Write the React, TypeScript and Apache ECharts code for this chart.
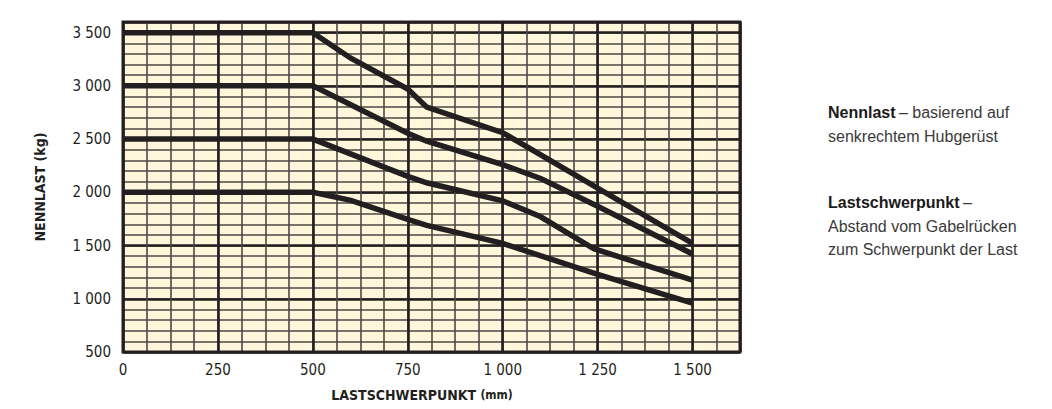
import React, { useEffect, useRef } from "react";
import * as echarts from "echarts";

// Load centre of gravity (mm)
const curve3500: [number, number][] = [[0, 3500], [500, 3500], [600, 3260], [750, 2970], [800, 2800], [1000, 2560], [1250, 2040], [1500, 1520]];
const curve3000: [number, number][] = [[0, 3000], [500, 3000], [750, 2555], [800, 2480], [1000, 2260], [1100, 2130], [1250, 1870], [1500, 1420]];
const curve2500: [number, number][] = [[0, 2500], [500, 2500], [750, 2150], [800, 2090], [1000, 1920], [1100, 1770], [1240, 1470], [1500, 1175]];
const curve2000: [number, number][] = [[0, 2000], [500, 2000], [600, 1925], [750, 1745], [800, 1690], [1000, 1520], [1250, 1230], [1500, 960]];

const xTickLabels = [0, 250, 500, 750, 1000, 1250, 1500];
const yTickLabels = [500, 1000, 1500, 2000, 2500, 3000, 3500];

const fmt = (v: number) => {
  const s = String(v);
  return s.length > 3 ? s.slice(0, s.length - 3) + " " + s.slice(-3) : s;
};

const NARROW = "'Liberation Sans Narrow', 'DejaVu Sans Condensed', 'Roboto', sans-serif";
const SANS = "'Liberation Sans', Arial, sans-serif";
const INK = "#231f20";

export default function App() {
  const ref = useRef<HTMLDivElement>(null);
  useEffect(() => {
    if (!ref.current) return;
    const chart = echarts.init(ref.current, undefined, { renderer: "svg" });
    const grid = { left: 123, top: 22, width: 617, height: 330 };
    const lineSeries = (data: [number, number][]) => ({
      type: "line",
      data,
      xAxisIndex: 0,
      yAxisIndex: 0,
      symbol: "none",
      lineStyle: { color: INK, width: 5.5, join: "miter" },
      z: 5,
    });
    const richStyles = {
      b: { fill: "#1a1a1a", fontFamily: SANS, fontWeight: "bold", fontSize: 16, lineHeight: 23.5 },
      r: { fill: "#3a3a3a", fontFamily: SANS, fontSize: 16, lineHeight: 23.5 },
    };
    chart.setOption({
      animation: false,
      grid: { ...grid, show: true, backgroundColor: "#fff6dc", borderColor: INK, borderWidth: 0 },
      xAxis: [
        {
          type: "value", min: 0, max: 1625, interval: 62.5,
          axisLine: { show: false }, axisTick: { show: false },
          axisLabel: {
            margin: 10, color: INK, fontFamily: NARROW, fontSize: 15,
            formatter: (v: number) => (xTickLabels.includes(v) ? fmt(v) : ""),
          },
          splitLine: { show: true, lineStyle: { color: "#4d4845", width: 1.6 } },
        },
        {
          type: "value", min: 0, max: 1625, interval: 250, position: "bottom",
          axisLine: { show: false }, axisTick: { show: false }, axisLabel: { show: false },
          splitLine: { show: true, lineStyle: { color: INK, width: 2.6 } },
        },
      ],
      yAxis: [
        {
          type: "value", min: 500, max: 3600, interval: 100,
          axisLine: { show: false }, axisTick: { show: false },
          axisLabel: {
            margin: 12, color: INK, fontFamily: NARROW, fontSize: 15,
            formatter: (v: number) => (yTickLabels.includes(v) ? fmt(v) : ""),
          },
          splitLine: { show: true, lineStyle: { color: "#4d4845", width: 1.6 } },
        },
        {
          type: "value", min: 500, max: 3600, interval: 500,
          axisLine: { show: false }, axisTick: { show: false }, axisLabel: { show: false },
          splitLine: { show: true, lineStyle: { color: INK, width: 2.6 } },
        },
      ],
      series: [lineSeries(curve3500), lineSeries(curve3000), lineSeries(curve2500), lineSeries(curve2000)],
      graphic: [
        {
          type: "rect", z: 10, silent: true,
          shape: { x: grid.left, y: grid.top, width: grid.width, height: grid.height },
          style: { fill: "none", stroke: INK, lineWidth: 3 },
        },
        {
          type: "text", x: 40, y: 187, rotation: Math.PI / 2,
          style: {
            text: "NENNLAST (kg)", fill: INK, fontFamily: NARROW, fontWeight: "bold", fontSize: 14,
            align: "center", verticalAlign: "middle",
          },
        },
        {
          type: "text", x: 422, y: 395,
          style: {
            text: "{a|LASTSCHWERPUNKT }{b|(mm)}",
            align: "center", verticalAlign: "middle",
            rich: {
              a: { fill: INK, fontFamily: NARROW, fontWeight: "bold", fontSize: 14 },
              b: { fill: INK, fontFamily: NARROW, fontWeight: "bold", fontSize: 12 },
            },
          },
        },
        {
          type: "text", x: 828, y: 101,
          style: {
            text: "{b|Nennlast} {r|– basierend auf}\n{r|senkrechtem Hubgerüst}",
            verticalAlign: "top", lineHeight: 23.5,
            rich: richStyles,
          },
        },
        {
          type: "text", x: 828, y: 191,
          style: {
            text: "{b|Lastschwerpunkt} {r|–}\n{r|Abstand vom Gabelrücken}\n{r|zum Schwerpunkt der Last}",
            verticalAlign: "top", lineHeight: 23.5,
            rich: richStyles,
          },
        },
      ],
    });
    return () => chart.dispose();
  }, []);
  return <div ref={ref} style={{ position: "fixed", left: 0, top: 0, width: 1052, height: 409, background: "#fff" }} />;
}
